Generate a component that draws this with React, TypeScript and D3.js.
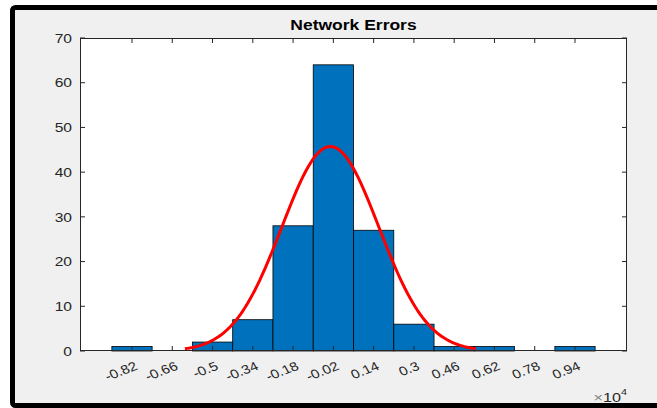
import React from 'react';
import * as d3 from 'd3';

// Histogram bins (x in units of 1e4) and their counts
const binCenters = [-0.82, -0.66, -0.5, -0.34, -0.18, -0.02, 0.14, 0.3, 0.46, 0.62, 0.78, 0.94];
const binLabels = ['-0.82', '-0.66', '-0.5', '-0.34', '-0.18', '-0.02', '0.14', '0.3', '0.46', '0.62', '0.78', '0.94'];
const counts = [1, 0, 2, 7, 28, 64, 27, 6, 1, 1, 0, 1];
const yTicks = [0, 10, 20, 30, 40, 50, 60, 70];
const binWidth = 0.16;

// Normal fit parameters (units of 1e4)
const fitMean = -0.032;
const fitSigma = 0.1926;

const W = 657;
const H = 408;
const FONT = '"Liberation Sans", Arial, Helvetica, sans-serif';

export default function App() {
  const plot = { left: 80, right: 627, top: 38, bottom: 351 };
  const x = d3.scaleLinear().domain([-1.0266, 1.1466]).range([plot.left, plot.right]);
  const y = d3.scaleLinear().domain([0, 70]).range([plot.bottom, plot.top]);

  const total = d3.sum(counts);
  const pdf = (v: number) =>
    Math.exp(-0.5 * ((v - fitMean) / fitSigma) ** 2) / (fitSigma * Math.sqrt(2 * Math.PI));
  const curveX = d3.range(0, 121).map((i) => fitMean - 3 * fitSigma + (i * 6 * fitSigma) / 120);
  const line = d3
    .line<number>()
    .x((v) => x(v))
    .y((v) => y(total * binWidth * pdf(v)));

  const axisColor = '#262626';
  const tickLen = 5;

  return (
    <div style={{ position: 'fixed', left: 0, top: 0 }}>
      <svg width={W} height={H} style={{ display: 'block', background: '#ffffff' }}>
        {/* figure background and frame */}
        <rect x={12.5} y={7.5} width={660} height={398} fill="#f0f0f0" stroke="#000" strokeWidth={5} rx={3} />

        {/* axes background */}
        <rect x={plot.left} y={plot.top} width={plot.right - plot.left} height={plot.bottom - plot.top} fill="#fff" />

        {/* bars */}
        {binCenters.map((c, i) =>
          counts[i] > 0 ? (
            <rect
              key={'b' + i}
              x={x(c - binWidth / 2)}
              y={y(counts[i])}
              width={x(c + binWidth / 2) - x(c - binWidth / 2)}
              height={y(0) - y(counts[i])}
              fill="#0072BD"
              stroke="#000"
              strokeWidth={0.8}
            />
          ) : null
        )}

        {/* fitted normal curve */}
        <path d={line(curveX) || ''} fill="none" stroke="#ff0000" strokeWidth={3} strokeLinejoin="round" />

        {/* box */}
        <rect
          x={plot.left + 0.5}
          y={plot.top + 0.5}
          width={plot.right - plot.left - 1}
          height={plot.bottom - plot.top - 1}
          fill="none"
          stroke={axisColor}
          strokeWidth={1}
        />

        {/* x ticks (top and bottom) */}
        {binCenters.map((c, i) => (
          <g key={'xt' + i}>
            <line x1={x(c)} x2={x(c)} y1={plot.bottom} y2={plot.bottom - tickLen} stroke={axisColor} />
            <line x1={x(c)} x2={x(c)} y1={plot.top} y2={plot.top + tickLen} stroke={axisColor} />
            <text
              transform={`translate(${x(c) + 5},${plot.bottom + 15}) scale(1.2,1) rotate(-25)`}
              textAnchor="end"
              dominantBaseline="middle"
              fontFamily={FONT}
              fontSize={12.5}
              fill={axisColor}
            >
              {binLabels[i]}
            </text>
          </g>
        ))}

        {/* y ticks (left and right) */}
        {yTicks.map((t) => (
          <g key={'yt' + t}>
            <line x1={plot.left} x2={plot.left + tickLen} y1={y(t)} y2={y(t)} stroke={axisColor} />
            <line x1={plot.right} x2={plot.right - tickLen} y1={y(t)} y2={y(t)} stroke={axisColor} />
            <text
              transform={`translate(${plot.left - 8},${y(t) + 1.5}) scale(1.3,1)`}
              textAnchor="end"
              dominantBaseline="middle"
              fontFamily={FONT}
              fontSize={12}
              fill={axisColor}
            >
              {t}
            </text>
          </g>
        ))}

        {/* exponent label */}
        <text
          transform={`translate(${plot.right},${plot.bottom + 51}) scale(1.2,1)`}
          textAnchor="end"
          fontFamily={FONT}
          fontSize={13.5}
          fill={axisColor}
        >
          <tspan fill="#808080">×</tspan>
          <tspan>10</tspan>
          <tspan dy={-7} fontSize={9}>4</tspan>
        </text>

        {/* title */}
        <text
          transform={`translate(${(plot.left + plot.right) / 2},${plot.top - 8}) scale(1.25,1)`}
          textAnchor="middle"
          fontFamily={FONT}
          fontSize={14}
          fontWeight="bold"
          fill="#000"
        >
          Network Errors
        </text>
      </svg>
    </div>
  );
}
